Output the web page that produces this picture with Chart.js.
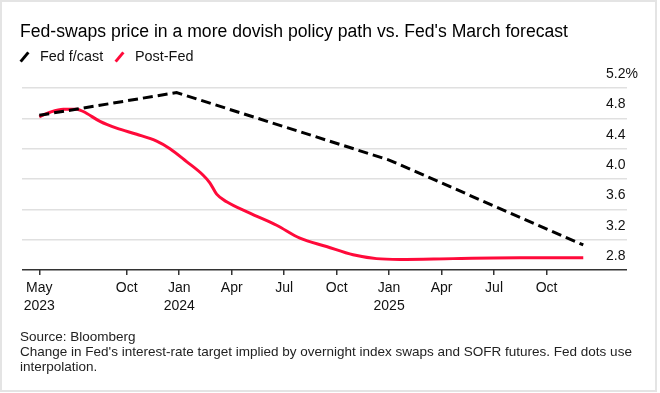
<!DOCTYPE html>
<html>
<head>
<meta charset="utf-8">
<script src="https://cdn.jsdelivr.net/npm/chart.js@4"></script>
<style>
  html, body { margin: 0; padding: 0; background: #fff; }
  body { width: 660px; height: 393px; position: relative; overflow: hidden;
         font-family: "Liberation Sans", Arial, sans-serif; }
  #frame { position: absolute; left: 0; top: 0; width: 657px; height: 392px;
           box-sizing: border-box; border: 2px solid #e4e4e4; pointer-events: none; }
  #chart { position: absolute; left: 0; top: 0; }
  .title { position: absolute; left: 20px; top: 21px; font-size: 17.6px; line-height: 20px; color: #000; white-space: nowrap; }
  .legend { position: absolute; top: 48px; font-size: 14.4px; line-height: 16px; color: #111; white-space: nowrap; }
  .icon { position: absolute; top: 51px; width: 3px; height: 12px; transform: rotate(40deg); }
  .foot { position: absolute; left: 20px; top: 329px; font-size: 13.5px; line-height: 15px; color: #222; white-space: nowrap; }
</style>
</head>
<body>
<canvas id="chart" width="660" height="393"></canvas>
<div class="title">Fed-swaps price in a more dovish policy path vs. Fed's March forecast</div>
<span class="icon" style="left:23px;background:#000;"></span>
<div class="legend" style="left:40px;">Fed f/cast</div>
<span class="icon" style="left:118px;background:#ff0a3a;"></span>
<div class="legend" style="left:135px;">Post-Fed</div>
<div class="foot">Source: Bloomberg<br>Change in Fed's interest-rate target implied by overnight index swaps and SOFR futures. Fed dots use<br>interpolation.</div>
<div id="frame"></div>
<script>
// x values are months since May 2023 (0 = May 2023)
const fedMonths  = [0, 7.85, 20, 31.1];
const fedValues  = [4.84, 5.14, 4.25, 3.13];
const postMonths = [0, 0.61, 1.37, 2.14, 2.51, 3.47, 4.42, 5.57, 6.71, 7.47, 8.42, 9.37, 9.75, 10.14, 10.71, 12.04, 13.57, 14.9, 16.42, 17.94, 19.28, 20.61, 23.66, 27.47, 31.1];
const postValues = [4.82, 4.88, 4.92, 4.92, 4.89, 4.76, 4.67, 4.59, 4.50, 4.40, 4.23, 4.05, 3.95, 3.80, 3.70, 3.55, 3.39, 3.22, 3.11, 3.00, 2.95, 2.94, 2.95, 2.96, 2.96];
const xTicks = [0, 5, 8, 11, 14, 17, 20, 23, 26, 29];
const xTickLabels = [["May", "2023"], "Oct", ["Jan", "2024"], "Apr", "Jul", "Oct", ["Jan", "2025"], "Apr", "Jul", "Oct"];
const yTicks = [2.8, 3.2, 3.6, 4.0, 4.4, 4.8, 5.2];

Chart.defaults.font.family = '"Liberation Sans", Arial, sans-serif';
Chart.defaults.color = '#111';

const toXY = (xs, ys) => xs.map((x, i) => ({ x: x, y: ys[i] }));

new Chart(document.getElementById('chart'), {
  type: 'line',
  data: {
    datasets: [
      {
        label: 'Fed f/cast',
        data: toXY(fedMonths, fedValues),
        borderColor: '#000',
        borderWidth: 3,
        borderDash: [10, 5],
        pointRadius: 0,
        tension: 0
      },
      {
        label: 'Post-Fed',
        data: toXY(postMonths, postValues),
        borderColor: '#ff0a3a',
        borderWidth: 3,
        pointRadius: 0,
        cubicInterpolationMode: 'monotone'
      }
    ]
  },
  options: {
    responsive: false,
    animation: false,
    devicePixelRatio: 1,
    layout: { padding: { left: 22, top: 88, right: 21, bottom: 73 } },
    plugins: { legend: { display: false }, title: { display: false }, tooltip: { enabled: false } },
    scales: {
      x: {
        type: 'linear',
        min: -0.989,
        max: 32.40,
        afterBuildTicks: (s) => { s.ticks = xTicks.map(v => ({ value: v })); },
        afterFit: (s) => { s.height = 50; },
        ticks: {
          autoSkip: false,
          maxRotation: 0,
          padding: 4,
          font: { size: 14, lineHeight: 1.3 },
          color: '#111',
          callback: (v) => { const i = xTicks.indexOf(v); return i >= 0 ? xTickLabels[i] : ''; }
        },
        grid: { drawOnChartArea: false, drawTicks: true, tickLength: 5, color: '#333', lineWidth: 1.5 },
        border: { display: false }
      },
      y: {
        position: 'right',
        min: 2.8,
        max: 5.2,
        afterBuildTicks: (s) => { s.ticks = yTicks.map(v => ({ value: v })); },
        afterFit: (s) => { s.width = 33; },
        ticks: {
          padding: -21,
          labelOffset: -14,
          font: { size: 14 },
          color: '#111',
          callback: (v) => v.toFixed(1) + (v === 5.2 ? '%' : '')
        },
        grid: {
          drawTicks: true,
          tickLength: 21,
          color: (c) => (c.tick && c.tick.value === 2.8) ? '#333' : '#e0e0e0',
          lineWidth: 1.5
        },
        border: { display: false }
      }
    }
  }
});
</script>
</body>
</html>
